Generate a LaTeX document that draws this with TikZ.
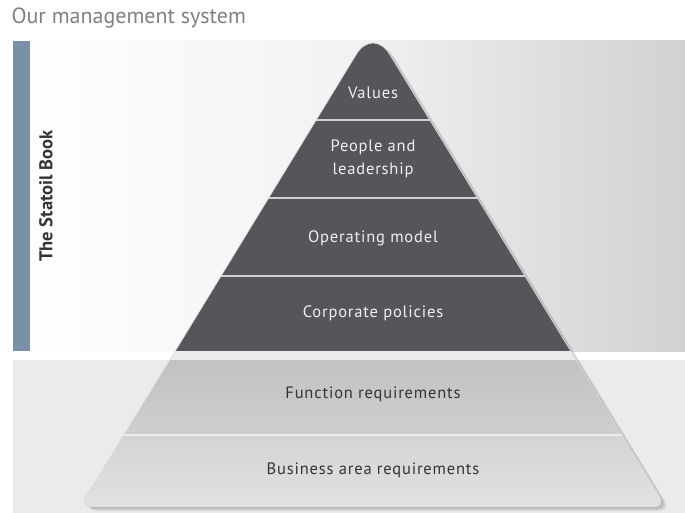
\documentclass[tikz,border=0pt]{standalone}
\usepackage{fontspec}
\setmainfont{PT Sans}
\usetikzlibrary{positioning}

\definecolor{bookblue}{RGB}{122,144,166}
\definecolor{darkband}{RGB}{85,86,92}
\definecolor{titlegray}{RGB}{128,128,128}
\definecolor{labeldark}{RGB}{52,52,56}
\definecolor{panelgray}{RGB}{235,235,235}

\tikzstyle{upperlabel}=[text=white!94!black, font=\addfontfeatures{LetterSpace=5}\fontsize{16.5}{23}\selectfont, align=center]
\tikzstyle{lowerlabel}=[text=labeldark, font=\addfontfeatures{LetterSpace=5}\fontsize{16.5}{23}\selectfont, align=center]
\tikzstyle{divider}=[line width=1.3pt]

% outline of the whole pyramid (apex and base corners rounded)
\newcommand{\pyramidpath}{(356.3,54.3) .. controls (365.5,39.2) and (380.5,39.2) .. (389.7,54.3) -- (659.7,496.8) .. controls (663.2,502.4) and (660.6,507) .. (654,507) -- (92,507) .. controls (85.4,507) and (82.8,502.4) .. (86.3,496.8) -- cycle}

\begin{document}
\begin{tikzpicture}[x=1pt, y=-1pt]
\useasboundingbox (0,0) rectangle (685,513);

% Panels
\fill[left color=white, right color=black!18, middle color=black!5] (13,41) rectangle (685,351);
\fill[panelgray] (13,360) rectangle (685,513);
\fill[bookblue] (13,41) rectangle (30,351);

% Shadow
\foreach \s in {1,...,6}
  \fill[black, opacity=0.045, xshift=\s*0.9pt, yshift=-\s*0.7pt] \pyramidpath;

% Layers
\begin{scope}
\clip \pyramidpath;
\fill[top color=black!24, bottom color=black!19] (60,360) rectangle (690,435);
\fill[top color=black!17, bottom color=black!11] (60,435) rectangle (690,513);
\fill[darkband] (60,20) rectangle (690,351);
\fill[black!8] (60,351) rectangle (690,360);
\draw[divider, black!18] (60,120) -- (690,120);
\draw[divider, black!18] (60,198) -- (690,198);
\draw[divider, black!18] (60,276) -- (690,276);
\draw[divider, black!7] (60,435) -- (690,435);
\end{scope}
\draw[white!88!black, line width=0.7pt] \pyramidpath;

% Title and side label
\node[anchor=west, text=titlegray, font=\fontsize{22}{26}\selectfont] (title) at (8,18) {Our management system};
\node[rotate=90, text=labeldark, font=\bfseries\fontsize{18.5}{22}\selectfont] (book) at (46,196) {The Statoil Book};

% Labels
\node[upperlabel] (values) at (373,93) {Values};
\node[upperlabel] (people) at (373,159) {People and\\leadership};
\node[upperlabel] (operating) at (373,238) {Operating model};
\node[upperlabel] (policies) at (373,313) {Corporate policies};
\node[lowerlabel] (function) at (373,394) {Function requirements};
\node[lowerlabel] (business) at (373,470) {Business area requirements};

\end{tikzpicture}
\end{document}
